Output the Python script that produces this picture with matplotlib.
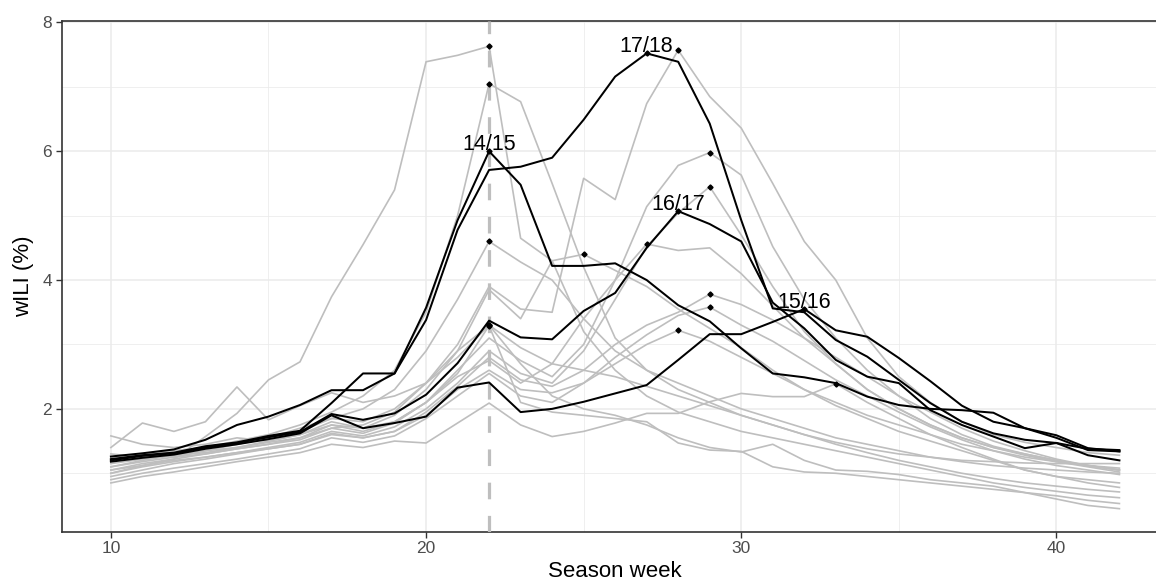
import numpy as np
import matplotlib.pyplot as plt

plt.rcParams['font.family'] = ['Liberation Sans', 'DejaVu Sans']

weeks = list(range(10, 43))

# highlighted seasons (black)
s1415 = [1.22, 1.28, 1.32, 1.42, 1.48, 1.58, 1.66, 2.09, 2.55, 2.55,
         3.57, 4.93, 6.00, 5.48, 4.22, 4.22, 4.26, 4.00, 3.61, 3.36,
         2.94, 2.55, 2.49, 2.40, 2.19, 2.06, 2.00, 1.98, 1.94, 1.70,
         1.55, 1.36, 1.34]
s1516 = [1.18, 1.24, 1.29, 1.38, 1.45, 1.53, 1.62, 1.90, 1.70, 1.78,
         1.88, 2.33, 2.41, 1.95, 2.00, 2.11, 2.24, 2.37, 2.76, 3.16,
         3.16, 3.35, 3.55, 3.22, 3.12, 2.79, 2.43, 2.05, 1.80, 1.70,
         1.59, 1.39, 1.34]
s1617 = [1.20, 1.27, 1.31, 1.40, 1.47, 1.56, 1.64, 1.92, 1.83, 1.93,
         2.22, 2.71, 3.37, 3.11, 3.08, 3.52, 3.80, 4.50, 5.07, 4.87,
         4.60, 3.65, 3.25, 2.76, 2.50, 2.40, 1.98, 1.75, 1.57, 1.39,
         1.47, 1.28, 1.20]
s1718 = [1.26, 1.31, 1.37, 1.52, 1.75, 1.88, 2.06, 2.29, 2.29, 2.55,
         3.38, 4.78, 5.71, 5.76, 5.90, 6.49, 7.16, 7.52, 7.39, 6.43,
         4.93, 3.56, 3.50, 3.07, 2.81, 2.45, 2.09, 1.80, 1.62, 1.52,
         1.47, 1.38, 1.36]
black_seasons = {'14/15': s1415, '15/16': s1516, '16/17': s1617, '17/18': s1718}

# other seasons (grey)
g01 = [1.00, 1.12, 1.22, 1.57, 1.93, 2.45, 2.73, 3.74, 4.55, 5.40,
       7.39, 7.49, 7.63, 4.65, 4.30, 3.20, 2.60, 2.20, 1.95, 1.80,
       1.65, 1.55, 1.45, 1.35, 1.25, 1.15, 1.05, 0.95, 0.85, 0.78,
       0.72, 0.66, 0.62]
g02 = [1.30, 1.25, 1.35, 1.40, 1.50, 1.60, 1.75, 1.95, 2.20, 2.60,
       3.50, 5.00, 7.05, 6.77, 5.50, 4.20, 3.10, 2.60, 2.30, 2.10,
       1.90, 1.75, 1.60, 1.48, 1.38, 1.30, 1.25, 1.20, 1.18, 1.16,
       1.15, 1.15, 1.15]
g03 = [1.10, 1.20, 1.28, 1.35, 1.45, 1.55, 1.70, 1.85, 2.00, 2.30,
       2.90, 3.70, 4.60, 4.28, 4.00, 3.40, 2.90, 2.60, 2.40, 2.20,
       2.00, 1.85, 1.70, 1.55, 1.45, 1.35, 1.25, 1.18, 1.12, 1.08,
       1.05, 1.02, 1.00]
g04 = [1.05, 1.15, 1.22, 1.30, 1.38, 1.45, 1.55, 1.70, 1.75, 1.95,
       2.40, 2.90, 3.30, 2.95, 2.70, 2.60, 2.50, 2.35, 2.20, 2.05,
       1.90, 1.75, 1.60, 1.45, 1.32, 1.20, 1.10, 1.00, 0.92, 0.85,
       0.80, 0.75, 0.71]
g05 = [1.20, 1.30, 1.25, 1.35, 1.40, 1.50, 1.60, 1.80, 1.70, 1.90,
       2.30, 2.90, 3.85, 3.40, 4.30, 4.40, 4.15, 3.90, 3.55, 3.25,
       2.95, 2.60, 2.30, 2.10, 1.90, 1.75, 1.60, 1.45, 1.35, 1.25,
       1.18, 1.12, 1.08]
g06 = [1.15, 1.22, 1.28, 1.32, 1.40, 1.48, 1.55, 1.75, 1.65, 1.80,
       2.10, 2.50, 2.75, 2.40, 2.70, 3.40, 4.00, 4.56, 4.46, 4.50,
       4.10, 3.60, 3.10, 2.70, 2.30, 2.00, 1.75, 1.55, 1.40, 1.30,
       1.20, 1.12, 1.05]
g07 = [1.25, 1.30, 1.35, 1.40, 1.45, 1.55, 1.65, 1.85, 1.80, 2.00,
       2.40, 3.00, 3.90, 3.55, 3.50, 5.58, 5.25, 6.74, 7.57, 6.85,
       6.36, 5.50, 4.60, 4.00, 3.10, 2.50, 2.10, 1.80, 1.60, 1.48,
       1.40, 1.32, 1.28]
g08 = [0.95, 1.05, 1.15, 1.22, 1.30, 1.38, 1.45, 1.60, 1.55, 1.65,
       1.90, 2.30, 2.60, 2.30, 2.25, 2.40, 2.70, 3.00, 3.22, 3.05,
       2.80, 2.55, 2.30, 2.05, 1.85, 1.65, 1.50, 1.35, 1.20, 1.05,
       0.95, 0.90, 0.85]
g09 = [1.10, 1.18, 1.25, 1.30, 1.38, 1.45, 1.52, 1.70, 1.62, 1.78,
       2.10, 2.60, 3.10, 2.75, 2.50, 3.00, 4.00, 5.14, 5.78, 5.98,
       5.63, 4.52, 3.70, 3.10, 2.60, 2.20, 1.85, 1.60, 1.42, 1.30,
       1.20, 1.12, 1.05]
g10 = [1.05, 1.12, 1.20, 1.25, 1.32, 1.40, 1.48, 1.65, 1.58, 1.72,
       2.00, 2.40, 2.90, 2.55, 2.40, 2.90, 3.70, 4.52, 5.04, 5.45,
       4.70, 3.90, 3.20, 2.70, 2.30, 2.00, 1.75, 1.55, 1.40, 1.28,
       1.18, 1.10, 1.02]
g11 = [1.00, 1.10, 1.18, 1.25, 1.32, 1.38, 1.45, 1.62, 1.55, 1.65,
       1.95, 2.35, 2.80, 2.45, 2.35, 2.60, 3.00, 3.30, 3.50, 3.78,
       3.62, 3.38, 3.10, 2.80, 2.50, 2.20, 1.95, 1.70, 1.50, 1.35,
       1.22, 1.12, 1.05]
g12 = [0.90, 1.00, 1.08, 1.15, 1.22, 1.30, 1.38, 1.55, 1.48, 1.58,
       1.85, 2.20, 2.55, 2.20, 2.10, 2.40, 2.80, 3.15, 3.45, 3.58,
       3.30, 3.05, 2.75, 2.45, 2.20, 1.95, 1.72, 1.52, 1.35, 1.22,
       1.12, 1.05, 0.98]
g13 = [0.85, 0.95, 1.02, 1.10, 1.18, 1.25, 1.32, 1.45, 1.40, 1.50,
       1.47, 1.78, 2.09, 1.75, 1.57, 1.65, 1.78, 1.93, 1.93, 2.11,
       2.24, 2.19, 2.19, 2.39, 2.10, 1.85, 1.60, 1.40, 1.22, 1.05,
       0.95, 0.85, 0.78]
g14 = [1.58, 1.45, 1.40, 1.45, 1.55, 1.50, 1.60, 1.75, 1.70, 1.80,
       2.10, 2.55, 3.29, 2.10, 1.95, 1.90, 1.85, 1.80, 1.47, 1.36,
       1.34, 1.10, 1.02, 1.00, 0.95, 0.90, 0.85, 0.80, 0.75, 0.70,
       0.65, 0.58, 0.53]
g15 = [1.40, 1.78, 1.65, 1.80, 2.34, 1.83, 2.05, 2.25, 2.10, 2.20,
       2.40, 2.80, 3.30, 2.70, 2.20, 2.00, 1.90, 1.75, 1.55, 1.40,
       1.33, 1.45, 1.20, 1.05, 1.03, 0.98, 0.90, 0.85, 0.80, 0.70,
       0.60, 0.50, 0.45]
grey_seasons = [g01, g02, g03, g04, g05, g06, g07, g08, g09, g10,
                g11, g12, g13, g14, g15]

vline_week = 22

fig = plt.figure(figsize=(11.56, 5.84), dpi=100)
ax = fig.add_axes([0.0534, 0.0896, 0.9575, 0.875])

for s in grey_seasons:
    ax.plot(weeks, s, color='#bebebe', lw=1.2, zorder=2)

ax.axvline(vline_week, color='#bebebe', lw=2.3, dashes=(5.2, 5.2), zorder=3)

for name, s in black_seasons.items():
    ax.plot(weeks, s, color='black', lw=1.45, zorder=4)

# peak points for every season
for s in grey_seasons + list(black_seasons.values()):
    i = int(np.argmax(s))
    ax.plot(weeks[i], s[i], marker='D', ms=2.6, color='black', zorder=5)

for name, s in black_seasons.items():
    i = int(np.argmax(s))
    ax.text(weeks[i], s[i] + 0.02, name, ha='center', va='baseline',
            fontsize=15.5, color='black', zorder=6)

ax.set_xlim(8.44, 43.56)
ax.set_ylim(0.093, 8.028)
ax.set_xticks([10, 20, 30, 40])
ax.set_xticks([15, 25, 35], minor=True)
ax.set_yticks([2, 4, 6, 8])
ax.set_yticks([1, 3, 5, 7], minor=True)
ax.grid(which='major', color='#ebebeb', lw=1.1, zorder=0)
ax.grid(which='minor', color='#ebebeb', lw=0.55, zorder=0)
ax.set_axisbelow(True)
ax.tick_params(which='major', length=4, width=1.0, color='#333333',
               labelsize=12.5, labelcolor='#4d4d4d', pad=3)
ax.tick_params(which='minor', length=0)
for sp in ax.spines.values():
    sp.set_color('#333333')
    sp.set_linewidth(1.2)

ax.set_xlabel('Season week', fontsize=16, labelpad=3)
ax.set_ylabel('wILI (%)', fontsize=16, labelpad=6)

plt.savefig('out.png', dpi=100)
